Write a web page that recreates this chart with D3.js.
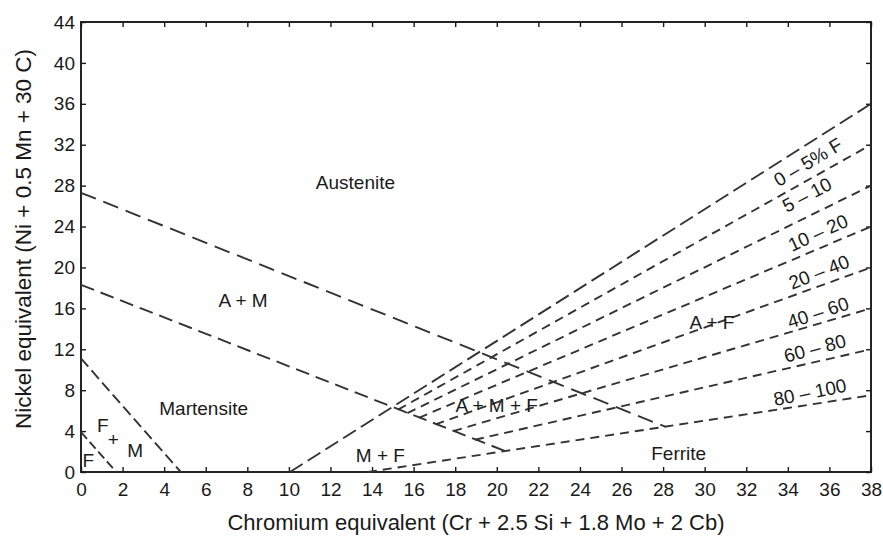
<!DOCTYPE html>
<html>
<head>
<meta charset="utf-8">
<title>Schaeffler diagram</title>
<script src="https://cdnjs.cloudflare.com/ajax/libs/d3/7.8.5/d3.min.js"></script>
<style>
  html, body { margin: 0; background: #fff; }
  svg { display: block; }
  text { font-family: "Liberation Sans", Arial, Helvetica, sans-serif; fill: #1a1a1a; }
  .axis path { display: none; }
  .axis line { stroke: #1a1a1a; stroke-width: 1.4; }
  .axis text { font-size: 19px; }
  .bound { fill: none; stroke: #333; stroke-width: 1.9; }
</style>
</head>
<body>
<div id="chart"></div>
<script>
// axis ticks
var xTicks = d3.range(0, 39, 2);
var yTicks = d3.range(0, 45, 4);

// phase boundaries, [Cr eq, Ni eq]
var austeniteLine  = [[0, 27.3], [28.1, 4.43]];
var martensiteLine = [[0, 18.3], [20.4, 2.05]];
var fmLine         = [[0, 11.1], [4.8, 0]];
var fLine          = [[0, 3.9], [1.7, 0]];

// ferrite iso-lines: start point, Ni eq at Cr eq = 38
var isoStart = [[10.05, 0], [15.25, 6.1], [15.7, 5.75], [16.25, 5.3], [17.05, 4.65], [17.9, 4.0], [18.95, 3.15], [13.8, 0]];
var isoEndY  = [36, 32, 28, 24, 20, 16, 12, 7.5];
var isoEndX  = 38;

// ferrite percentage labels and where they sit
var isoLabels = ["0 \u2013 5% F", "5 \u2013 10", "10 \u2013 20", "20 \u2013 40", "40 \u2013 60", "60 \u2013 80", "80 \u2013 100"];
var isoLabelPos = [[34.97, 30.3], [34.92, 27.1], [35.45, 23.4], [35.5, 19.55], [35.45, 15.6], [35.3, 12.1], [35.06, 7.8]];

// region names
var regionNames = ["Austenite", "A + M", "Martensite", "A + M + F", "M + F", "A + F", "Ferrite", "F", "+", "M", "F"];
var regionPos = [[13.2, 28.3], [7.8, 16.8], [5.9, 6.2], [20.0, 6.5], [14.4, 1.65], [30.35, 14.6], [28.75, 1.85], [1.05, 4.6], [1.55, 3.2], [2.6, 2.1], [0.35, 1.1]];

var W = 883, H = 538;
var margin = {top: 22, right: 12, bottom: 66, left: 81};
var iw = W - margin.left - margin.right, ih = H - margin.top - margin.bottom;

var svg = d3.select("#chart").append("svg").attr("width", W).attr("height", H);
var g = svg.append("g").attr("transform", "translate(" + margin.left + "," + margin.top + ")");

var x = d3.scaleLinear().domain([0, 38]).range([0, iw]);
var y = d3.scaleLinear().domain([0, 44]).range([ih, 0]);

// axes, ticks point inward
g.append("g").attr("class", "axis").attr("transform", "translate(0," + ih + ")")
  .call(d3.axisBottom(x).tickValues(xTicks).tickSize(-5).tickSizeOuter(0).tickPadding(11));
g.append("g").attr("class", "axis")
  .call(d3.axisLeft(y).tickValues(yTicks).tickSize(-5).tickSizeOuter(0).tickPadding(6));
g.append("g").attr("class", "axis")
  .call(d3.axisTop(x).tickValues(xTicks).tickSize(-5).tickSizeOuter(0).tickFormat(""));
g.append("g").attr("class", "axis").attr("transform", "translate(" + iw + ",0)")
  .call(d3.axisRight(y).tickValues(yTicks).tickSize(-5).tickSizeOuter(0).tickFormat(""));

g.append("rect").attr("width", iw).attr("height", ih)
  .attr("fill", "none").attr("stroke", "#1a1a1a").attr("stroke-width", 1.9);

var line = d3.line().x(function(d) { return x(d[0]); }).y(function(d) { return y(d[1]); });

// boundaries
g.append("path").datum(austeniteLine).attr("class", "bound").attr("d", line).attr("stroke-dasharray", "16,8");
g.append("path").datum(martensiteLine).attr("class", "bound").attr("d", line).attr("stroke-dasharray", "14,7");
g.append("path").datum(fmLine).attr("class", "bound").attr("d", line).attr("stroke-dasharray", "11,5");
g.append("path").datum(fLine).attr("class", "bound").attr("d", line).attr("stroke-dasharray", "9,4");

var isoLines = isoStart.map(function(s, i) { return [s, [isoEndX, isoEndY[i]]]; });
g.selectAll(".iso").data(isoLines).enter().append("path")
  .attr("class", "bound iso")
  .attr("d", line)
  .attr("stroke-dasharray", function(d, i) { return i === 0 ? "15,6" : "9,6"; });

// iso labels follow the line just above them
function pixAngle(l) {
  var dx = x(l[1][0]) - x(l[0][0]), dy = y(l[1][1]) - y(l[0][1]);
  return Math.atan2(dy, dx) * 180 / Math.PI;
}
g.selectAll(".isolab").data(isoLabels).enter().append("text")
  .attr("class", "isolab")
  .attr("text-anchor", "middle")
  .attr("dy", "0.35em")
  .style("font-size", "19px")
  .attr("transform", function(d, i) {
    var a = pixAngle(isoLines[i]) + 1.5;
    return "translate(" + x(isoLabelPos[i][0]) + "," + y(isoLabelPos[i][1]) + ") rotate(" + a + ")";
  })
  .text(function(d) { return d; });

// region labels
g.selectAll(".region").data(regionNames).enter().append("text")
  .attr("class", "region")
  .attr("text-anchor", "middle")
  .attr("dy", "0.35em")
  .style("font-size", "19px")
  .attr("x", function(d, i) { return x(regionPos[i][0]); })
  .attr("y", function(d, i) { return y(regionPos[i][1]); })
  .text(function(d) { return d; });

// axis titles
svg.append("text")
  .attr("x", margin.left + iw / 2).attr("y", 530)
  .attr("text-anchor", "middle").style("font-size", "22px")
  .text("Chromium equivalent (Cr + 2.5 Si + 1.8 Mo + 2 Cb)");
svg.append("text")
  .attr("transform", "translate(31,239) rotate(-90)")
  .attr("text-anchor", "middle").style("font-size", "22.5px")
  .text("Nickel equivalent (Ni + 0.5 Mn + 30 C)");
</script>
</body>
</html>
